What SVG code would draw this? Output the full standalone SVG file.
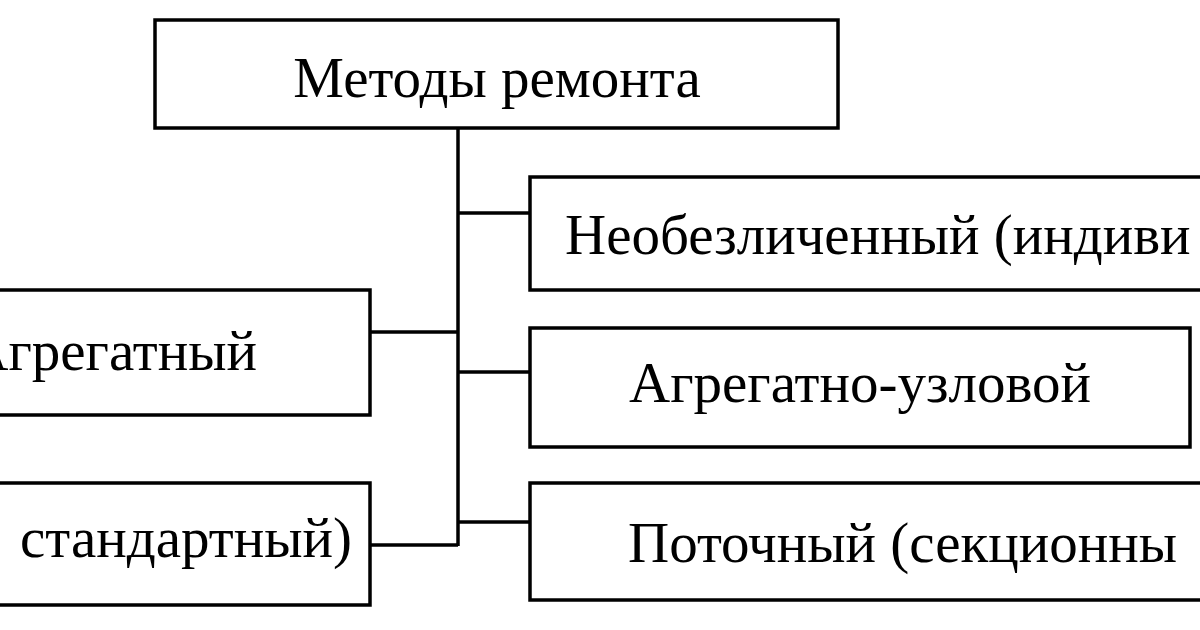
<svg xmlns="http://www.w3.org/2000/svg" width="1200" height="630" viewBox="0 0 1200 630">
<style>
rect{fill:#fff;stroke:#000;stroke-width:3.5}
line{stroke:#000;stroke-width:3.5}
text{font-family:"Liberation Serif",serif;font-size:57px;fill:#000}
</style>
<rect x="0" y="0" width="1200" height="630" style="stroke:none"/>
<g id="connectors">
<line x1="458" y1="128" x2="458" y2="546"/>
<line x1="458" y1="213" x2="530" y2="213"/>
<line x1="458" y1="372" x2="530" y2="372"/>
<line x1="458" y1="522" x2="530" y2="522"/>
<line x1="370" y1="332" x2="458" y2="332"/>
<line x1="370" y1="545" x2="458" y2="545"/>
</g>
<g id="root"><rect x="155" y="20" width="683" height="108"/><text x="497" y="97" text-anchor="middle">Методы ремонта</text></g>
<g id="n1"><rect x="530" y="177" width="690" height="113"/><text x="565" y="254">Необезличенный (индиви</text></g>
<g id="n2"><rect x="530" y="328" width="660" height="119"/><text x="860" y="402" text-anchor="middle">Агрегатно-узловой</text></g>
<g id="n3"><rect x="530" y="483" width="690" height="117"/><text x="628" y="562">Поточный (секционны</text></g>
<g id="n4"><rect x="-20" y="290" width="390" height="125"/><text x="257" y="370" text-anchor="end">Агрегатный</text></g>
<g id="n5"><rect x="-20" y="483" width="390" height="122"/><text x="352" y="557" text-anchor="end">стандартный)</text></g>
</svg>
